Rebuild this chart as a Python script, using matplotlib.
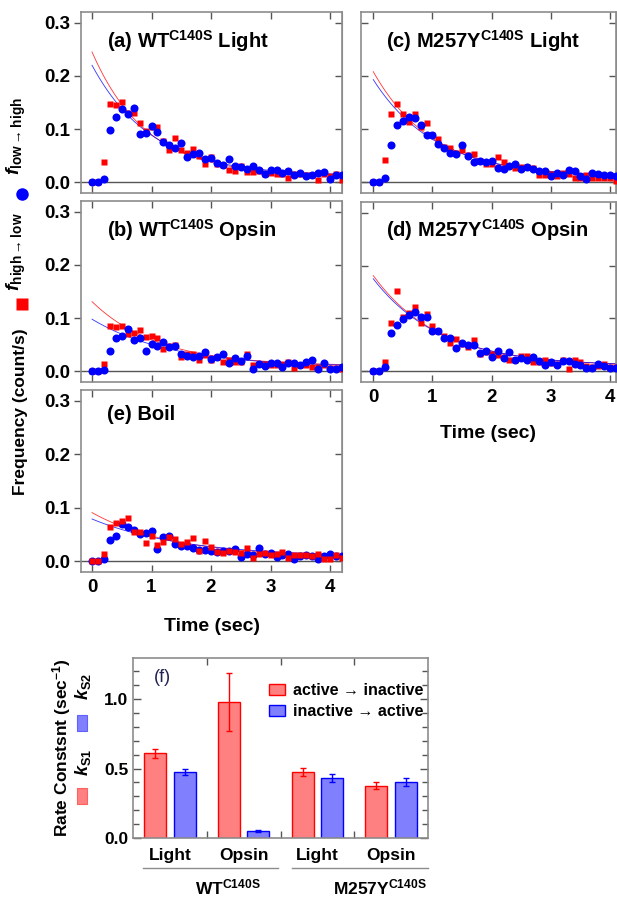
import numpy as np
import matplotlib.pyplot as plt
import matplotlib.transforms as mtransforms
from matplotlib.lines import Line2D
from matplotlib.patches import Rectangle
from matplotlib.ticker import MultipleLocator

plt.rcParams["font.family"] = ["Liberation Sans", "DejaVu Sans"]
plt.rcParams["font.weight"] = "bold"
plt.rcParams["axes.labelweight"] = "bold"
plt.rcParams["mathtext.fontset"] = "custom"
plt.rcParams["mathtext.rm"] = "Liberation Sans:bold"
plt.rcParams["mathtext.bf"] = "Liberation Sans:bold"
plt.rcParams["mathtext.it"] = "Liberation Sans:italic"
plt.rcParams["mathtext.bfit"] = "Liberation Sans:italic:bold"

# time bins (s), 0.1 s steps
t_left = np.round(np.arange(43) * 0.1, 1)   # 0.0 .. 4.2
t_right = t_left[:42]                        # 0.0 .. 4.1

# f(low->high), blue circles
blue_a = [0, 0, 0.006, 0.099, 0.122, 0.137, 0.128, 0.14, 0.091, 0.092, 0.105, 0.094, 0.076, 0.07,
          0.065, 0.074, 0.047, 0.054, 0.056, 0.043, 0.045, 0.036, 0.033, 0.044, 0.03, 0.028, 0.025,
          0.03, 0.023, 0.016, 0.024, 0.024, 0.018, 0.021, 0.014, 0.018, 0.012, 0.014, 0.018, 0.019,
          0.006, 0.013, 0.014]
blue_b = [0, 0, 0.002, 0.038, 0.063, 0.067, 0.079, 0.058, 0.062, 0.039, 0.052, 0.048, 0.055, 0.045,
          0.048, 0.032, 0.028, 0.027, 0.029, 0.036, 0.023, 0.027, 0.033, 0.015, 0.025, 0.02, 0.028,
          0.005, 0.013, 0.01, 0.015, 0.016, 0.008, 0.016, 0.015, 0.012, 0.018, 0.021, 0.005, 0.016,
          0.004, 0.005, 0.009]
blue_c = [0, 0, 0.008, 0.07, 0.107, 0.115, 0.123, 0.121, 0.107, 0.089, 0.089, 0.072, 0.065, 0.056,
          0.053, 0.071, 0.05, 0.038, 0.04, 0.038, 0.041, 0.027, 0.025, 0.031, 0.035, 0.025, 0.028,
          0.025, 0.021, 0.021, 0.011, 0.018, 0.013, 0.024, 0.022, 0.011, 0.006, 0.018, 0.016, 0.014,
          0.014, 0.011]
blue_d = [0, 0, 0.008, 0.072, 0.088, 0.099, 0.106, 0.112, 0.102, 0.103, 0.077, 0.076, 0.064, 0.063,
          0.044, 0.053, 0.049, 0.049, 0.034, 0.039, 0.028, 0.039, 0.025, 0.036, 0.022, 0.026, 0.022,
          0.028, 0.019, 0.012, 0.017, 0.013, 0.019, 0.019, 0.014, 0.012, 0.007, 0.007, 0.014, 0.011,
          0.006, 0.006]
blue_e = [0, 0, 0.004, 0.039, 0.048, 0.069, 0.064, 0.058, 0.051, 0.053, 0.056, 0.023, 0.045, 0.047,
          0.033, 0.028, 0.029, 0.024, 0.022, 0.022, 0.02, 0.017, 0.02, 0.02, 0.023, 0.008, 0.014,
          0.012, 0.025, 0.014, 0.015, 0.008, 0.012, 0.014, 0.004, 0.009, 0.011, 0.009, 0.004, 0.009,
          0.014, 0.009, 0.009]

# f(high->low), red squares
red_a = [0, 0, 0.038, 0.148, 0.145, 0.15, 0.131, 0.131, 0.111, 0.096, 0.104, 0.104, 0.077, 0.06,
         0.084, 0.061, 0.055, 0.063, 0.05, 0.035, 0.047, 0.035, 0.033, 0.023, 0.022, 0.03, 0.019,
         0.019, 0.022, 0.016, 0.018, 0.016, 0.015, 0.009, 0.016, 0.015, 0.013, 0.013, 0.005, 0.016,
         0.011, 0.016, 0.004]
red_b = [0, 0, 0.013, 0.086, 0.083, 0.085, 0.071, 0.072, 0.078, 0.064, 0.066, 0.062, 0.042, 0.047,
         0.049, 0.027, 0.033, 0.033, 0.022, 0.031, 0.022, 0.027, 0.017, 0.022, 0.017, 0.017, 0.033,
         0.011, 0.014, 0.014, 0.012, 0.011, 0.014, 0.017, 0.007, 0.011, 0.011, 0.009, 0.008, 0.011,
         0.007, 0.007, 0.005]
red_c = [0, 0, 0.042, 0.129, 0.147, 0.129, 0.113, 0.129, 0.104, 0.111, 0.089, 0.082, 0.067, 0.065,
         0.055, 0.06, 0.052, 0.053, 0.04, 0.035, 0.035, 0.048, 0.038, 0.03, 0.027, 0.028, 0.028,
         0.027, 0.014, 0.013, 0.016, 0.011, 0.017, 0.016, 0.009, 0.009, 0.013, 0.008, 0.008, 0.008,
         0.008, 0.003]
red_d = [0, 0, 0.018, 0.091, 0.152, 0.103, 0.111, 0.121, 0.091, 0.108, 0.085, 0.076, 0.066, 0.054,
         0.061, 0.052, 0.047, 0.059, 0.033, 0.036, 0.033, 0.031, 0.028, 0.022, 0.022, 0.03, 0.03,
         0.018, 0.018, 0.021, 0.016, 0.014, 0.022, 0.005, 0.022, 0.018, 0.011, 0.008, 0.011, 0.014,
         0.009, 0.008]
red_e = [0, 0, 0.014, 0.064, 0.072, 0.075, 0.081, 0.054, 0.054, 0.034, 0.047, 0.031, 0.036, 0.045,
         0.042, 0.033, 0.036, 0.043, 0.02, 0.037, 0.026, 0.017, 0.015, 0.02, 0.017, 0.015, 0.024,
         0.006, 0.014, 0.015, 0.011, 0.014, 0.018, 0.006, 0.011, 0.011, 0.011, 0.009, 0.014, 0.004,
         0.004, 0.012, 0.006]

# exponential fits: amplitude, rate (1/s), offset  -> panels a..e
fit_red_amp = [0.233, 0.121, 0.198, 0.171, 0.083]
fit_red_rate = [1.1, 0.9, 1.0, 0.9, 0.75]
fit_red_off = [0.012, 0.010, 0.010, 0.010, 0.008]
fit_blue_amp = [0.208, 0.090, 0.183, 0.165, 0.071]
fit_blue_rate = [1.0, 0.75, 0.95, 0.88, 0.65]
fit_blue_off = [0.012, 0.008, 0.010, 0.010, 0.008]

titles = [r"(a) WT$^{\mathrm{C140S}}$ Light", r"(b) WT$^{\mathrm{C140S}}$ Opsin",
          r"(c) M257Y$^{\mathrm{C140S}}$ Light", r"(d) M257Y$^{\mathrm{C140S}}$ Opsin",
          "(e) Boil"]

# rate constants (f)
conditions = ["Light", "Opsin", "Light", "Opsin"]
k_s1 = [0.611, 0.978, 0.475, 0.376]
k_s1_err = [0.032, 0.21, 0.031, 0.024]
k_s2 = [0.475, 0.05, 0.43, 0.403]
k_s2_err = [0.02, 0.01, 0.027, 0.03]

W, H = 617, 897
fig = plt.figure(figsize=(W / 100, H / 100), dpi=100)


def box(l, t, r, b):
    return [l / W, 1 - b / H, (r - l) / W, (b - t) / H]


FRAME = "#8c8c8c"


def style_axes(ax, left_col):
    for s in ax.spines.values():
        s.set_color(FRAME)
        s.set_linewidth(1.2)
    ax.tick_params(axis="x", direction="in", top=True, bottom=True, length=5, width=1,
                   color="#555555", labelsize=13.5, pad=5)
    ax.tick_params(axis="y", direction="out" if left_col else "in", left=True, right=False,
                   length=5, width=1, color="#555555", labelsize=13.5, pad=3)
    sec = ax.secondary_yaxis("right")
    sec.set_yticks([0, 0.1, 0.2, 0.3])
    sec.set_yticklabels([])
    sec.tick_params(direction="in", length=5, width=1, color="#555555")
    sec.spines["right"].set_color(FRAME)


def draw_panel(ax, i, t, red, blue, xlim, left_col, red_top=False):
    tt = np.linspace(0, t[-1], 200)
    ax.axhline(0, color="#555555", lw=1, zorder=1)
    ax.plot(tt, fit_red_amp[i] * np.exp(-fit_red_rate[i] * tt) + fit_red_off[i],
            color="red", lw=0.6, alpha=0.8, zorder=2)
    ax.plot(tt, fit_blue_amp[i] * np.exp(-fit_blue_rate[i] * tt) + fit_blue_off[i],
            color="blue", lw=0.6, alpha=0.8, zorder=2)
    ax.plot(t, red, "s", ms=5, color="#ff0000", mec="none", zorder=4 if red_top else 3)
    ax.plot(t, blue, "o", ms=5.8, color="#0000ff", mec="none", zorder=3 if red_top else 4)
    ax.set_xlim(*xlim)
    ax.set_ylim(-0.02, 0.32)
    ax.set_xticks([0, 1, 2, 3, 4])
    ax.set_yticks([0, 0.1, 0.2, 0.3])
    ax.yaxis.set_major_formatter(plt.FormatStrFormatter("%.1f"))
    style_axes(ax, left_col)


xl_left = (-0.185, 4.2)
xl_right = (-0.207, 4.10)

ax_a = fig.add_axes(box(81, 12, 342, 193))
ax_b = fig.add_axes(box(81, 201, 342, 382))
ax_e = fig.add_axes(box(81, 390, 342, 572))
ax_c = fig.add_axes(box(361, 12, 616, 193))
ax_d = fig.add_axes(box(361, 202, 616, 382))

draw_panel(ax_a, 0, t_left, red_a, blue_a, xl_left, True)
draw_panel(ax_b, 1, t_left, red_b, blue_b, xl_left, True)
draw_panel(ax_c, 2, t_right, red_c, blue_c, xl_right, False)
draw_panel(ax_d, 3, t_right, red_d, blue_d, xl_right, False)
draw_panel(ax_e, 4, t_left, red_e, blue_e, xl_left, True, red_top=True)

for ax in (ax_a, ax_b, ax_c):
    ax.set_xticklabels([])
for ax in (ax_c, ax_d):
    ax.set_yticklabels([])

for ax, title, ty in zip((ax_a, ax_b, ax_c, ax_d, ax_e), titles, (0.80, 0.80, 0.80, 0.805, 0.835)):
    ax.text(0.099, ty, title, transform=ax.transAxes, fontsize=14.5, va="baseline", ha="left")

ax_d.set_xlabel("Time (sec)", fontsize=14, fontweight="bold", labelpad=14)
ax_e.set_xlabel("Time (sec)", fontsize=14, fontweight="bold", labelpad=16)

# left side labels of the frequency panels
fig.text(21 / W, 1 - 412 / H, "Frequency (count/s)", rotation=90, fontsize=12.5,
         ha="center", va="center")
fig.text(16 / W, 1 - 136 / H, r"$\mathbfit{f}_{\mathrm{low}\rightarrow\mathrm{high}}$",
         rotation=90, fontsize=14, ha="center", va="center")
fig.text(16 / W, 1 - 252 / H, r"$\mathbfit{f}_{\mathrm{high}\rightarrow\mathrm{low}}$",
         rotation=90, fontsize=14, ha="center", va="center")
fig.add_artist(Line2D([22 / W], [1 - 194 / H], marker="o", ms=9, color="#0000ff",
                      mec="none", transform=fig.transFigure))
fig.add_artist(Line2D([22 / W], [1 - 304 / H], marker="s", ms=8, color="#ff0000",
                      mec="none", transform=fig.transFigure))

# (f) rate constants
ax_f = fig.add_axes(box(133, 658, 428, 838))
x = np.arange(len(conditions))
RED_FACE, BLUE_FACE = "#ff8080", "#8080ff"
ax_f.bar(x - 0.2, k_s1, 0.3, color=RED_FACE, edgecolor="#ff0000", lw=1, zorder=2)
ax_f.bar(x + 0.2, k_s2, 0.3, color=BLUE_FACE, edgecolor="#0000ff", lw=1, zorder=2)
ax_f.errorbar(x - 0.2, k_s1, yerr=k_s1_err, fmt="none", ecolor="#ff0000", elinewidth=1,
              capsize=2.5, capthick=1, zorder=3)
ax_f.errorbar(x + 0.2, k_s2, yerr=k_s2_err, fmt="none", ecolor="#0000ff", elinewidth=1,
              capsize=2.5, capthick=1, zorder=3)
ax_f.set_xlim(-0.5, 3.5)
ax_f.set_ylim(0, 1.295)
ax_f.set_xticks([0.5, 1.5, 2.5])
ax_f.set_xticklabels([])
ax_f.set_xticks(x, labels=conditions, minor=True)
ax_f.tick_params(axis="x", which="major", direction="in", top=True, length=5, width=1,
                 color="#555555")
ax_f.tick_params(axis="x", which="minor", length=0, labelsize=12.5, pad=7)
ax_f.yaxis.set_major_locator(MultipleLocator(0.5))
ax_f.yaxis.set_minor_locator(MultipleLocator(0.1))
ax_f.yaxis.set_major_formatter(plt.FormatStrFormatter("%.1f"))
ax_f.tick_params(axis="y", which="both", direction="in", left=True, right=True, width=1,
                 color="#555555", labelsize=12.5)
ax_f.tick_params(axis="y", which="major", length=6)
ax_f.tick_params(axis="y", which="minor", length=4)
for s in ax_f.spines.values():
    s.set_color(FRAME)
    s.set_linewidth(1.2)

ax_f.text(0.071, 0.894, "(f)", transform=ax_f.transAxes, fontsize=13, fontweight="normal",
          color="#222255", va="center", ha="left")

handles = [Rectangle((0, 0), 1, 1, facecolor=RED_FACE, edgecolor="#ff0000", lw=1),
           Rectangle((0, 0), 1, 1, facecolor=BLUE_FACE, edgecolor="#0000ff", lw=1)]
ax_f.legend(handles, ["active \u2192 inactive", "inactive \u2192 active"], loc="upper left",
            bbox_to_anchor=(0.46, 0.86), frameon=False, fontsize=11.5, borderpad=0,
            borderaxespad=0, handlelength=1.0, handleheight=0.7, handletextpad=0.5,
            labelspacing=0.35)

# group underlines and group names
trans = mtransforms.blended_transform_factory(ax_f.transData, ax_f.transAxes)
ax_f.plot([-0.37, 1.47], [-0.167, -0.167], transform=trans, clip_on=False, color=FRAME, lw=1)
ax_f.plot([1.65, 3.5], [-0.167, -0.167], transform=trans, clip_on=False, color=FRAME, lw=1)
fig.text(195 / W, 1 - 887 / H, r"WT$^{\mathrm{C140S}}$", fontsize=12.5, ha="left", va="center")
fig.text(333 / W, 1 - 887 / H, r"M257Y$^{\mathrm{C140S}}$", fontsize=12.5, ha="left", va="center")

# y-label of (f) with its colour keys
fig.text(62 / W, 1 - 748 / H, r"Rate Constsnt (sec$^{-1}$)", rotation=90, fontsize=12.5,
         ha="center", va="center")
fig.text(83 / W, 1 - 687 / H, r"$k_{\mathrm{S2}}$", rotation=90, fontsize=13,
         ha="center", va="center", fontweight="normal")
fig.text(83 / W, 1 - 762 / H, r"$k_{\mathrm{S1}}$", rotation=90, fontsize=13,
         ha="center", va="center", fontweight="normal")
fig.add_artist(Rectangle((77 / W, 1 - 731 / H), 10 / W, 16 / H, facecolor=BLUE_FACE,
                         edgecolor="#6060ff", lw=0.8, transform=fig.transFigure))
fig.add_artist(Rectangle((77 / W, 1 - 804 / H), 10 / W, 16 / H, facecolor=RED_FACE,
                         edgecolor="#ff6060", lw=0.8, transform=fig.transFigure))

fig.savefig("out.png", dpi=100)
